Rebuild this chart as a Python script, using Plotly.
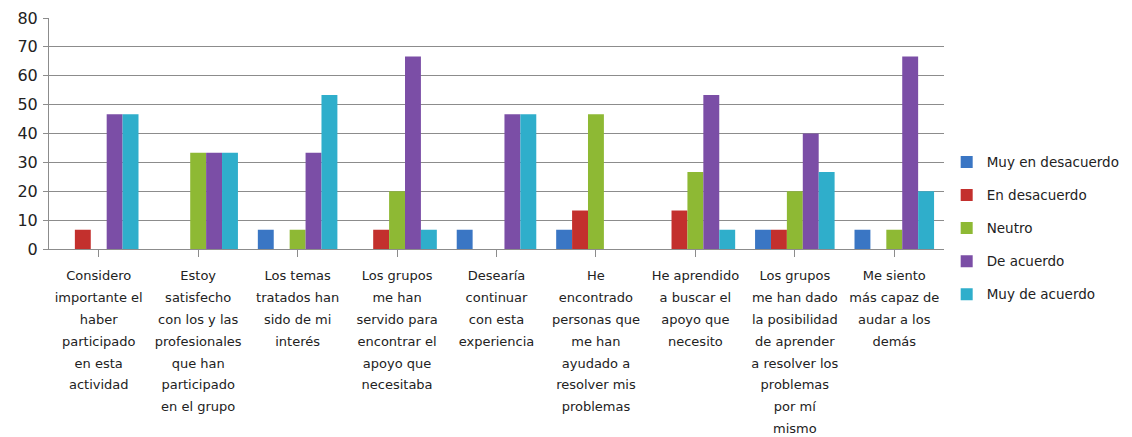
import plotly.graph_objects as go

categories = [
    "Considero<br>importante el<br>haber<br>participado<br>en esta<br>actividad",
    "Estoy<br>satisfecho<br>con los y las<br>profesionales<br>que han<br>participado<br>en el grupo",
    "Los temas<br>tratados han<br>sido de mi<br>interés",
    "Los grupos<br>me han<br>servido para<br>encontrar el<br>apoyo que<br>necesitaba",
    "Desearía<br>continuar<br>con esta<br>experiencia",
    "He<br>encontrado<br>personas que<br>me han<br>ayudado a<br>resolver mis<br>problemas",
    "He aprendido<br>a buscar el<br>apoyo que<br>necesito",
    "Los grupos<br>me han dado<br>la posibilidad<br>de aprender<br>a resolver los<br>problemas<br>por mí<br>mismo",
    "Me siento<br>más capaz de<br>audar a los<br>demás",
]

series_names = ["Muy en desacuerdo", "En desacuerdo", "Neutro", "De acuerdo", "Muy de acuerdo"]

muy_en_desacuerdo = [0, 0, 6.67, 0, 6.67, 6.67, 0, 6.67, 6.67]
en_desacuerdo = [6.67, 0, 0, 6.67, 0, 13.33, 13.33, 6.67, 0]
neutro = [0, 33.33, 6.67, 20, 0, 46.67, 26.67, 20, 6.67]
de_acuerdo = [46.67, 33.33, 33.33, 66.67, 46.67, 0, 53.33, 40, 66.67]
muy_de_acuerdo = [46.67, 33.33, 53.33, 6.67, 46.67, 0, 6.67, 26.67, 20]

y_ticks = [0, 10, 20, 30, 40, 50, 60, 70, 80]

series_values = [muy_en_desacuerdo, en_desacuerdo, neutro, de_acuerdo, muy_de_acuerdo]
colors = ["#3A76C4", "#C3302D", "#8EB934", "#7B4EA6", "#2FAECB"]

# small glyphs with wide line spacing
tick_text = [
    "<br>".join('<span style="font-size:13px">%s</span>' % ln for ln in c.split("<br>"))
    for c in categories
]

fig = go.Figure()
for name, vals, c in zip(series_names, series_values, colors):
    fig.add_trace(go.Bar(
        x=list(range(len(categories))), y=vals, name=name, legendgroup=name,
        marker=dict(color=c, line=dict(width=0)),
    ))

grid = "#8C8C8C"
fig.update_layout(
    width=1124, height=429,
    margin=dict(l=41, r=188, t=10, b=188, autoexpand=False),
    paper_bgcolor="white", plot_bgcolor="white",
    barmode="group", bargap=0.2, bargroupgap=0,
    font=dict(family="DejaVu Sans", size=13, color="#222222"),
    legend=dict(
        x=1.003, xanchor="left", y=0.09, yanchor="middle",
        font=dict(family="DejaVu Sans", size=13.5, color="#222222"),
        tracegroupgap=12.5, itemwidth=30,
    ),
    xaxis=dict(
        tickmode="array", tickvals=list(range(len(categories))), ticktext=tick_text,
        tickangle=0, showline=True, linecolor=grid, linewidth=1,
        ticks="outside", ticklen=7, tickcolor=grid, tickson="boundaries",
        showgrid=False, tickfont=dict(size=16.8), automargin=False,
        ticklabelstandoff=3,
        range=[-0.5, len(categories) - 0.5],
    ),
    yaxis=dict(
        range=[0, 80], tickvals=y_ticks, showgrid=True, gridcolor=grid, gridwidth=1,
        showline=True, linecolor=grid, linewidth=1, ticks="outside", ticklen=5,
        tickcolor=grid, tickfont=dict(size=16), zeroline=False, automargin=False,
        ticklabelstandoff=2,
    ),
)

fig.write_html("out.html")
